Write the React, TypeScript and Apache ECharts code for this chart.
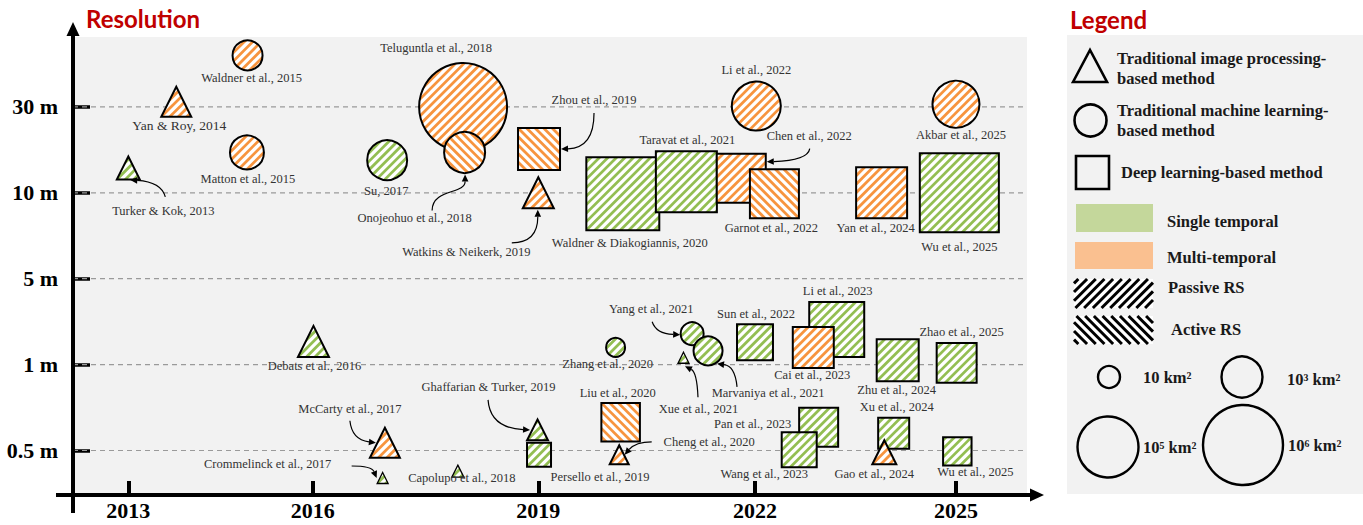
import React, { useEffect, useRef } from 'react';
import * as echarts from 'echarts';

// ---------------- data ----------------
const studies = [
  'Turker & Kok, 2013', 'Yan & Roy, 2014', 'Waldner et al., 2015', 'Matton et al., 2015',
  'Debats et al., 2016', 'Su, 2017', 'McCarty et al., 2017', 'Crommelinck et al., 2017',
  'Capolupo et al., 2018', 'Teluguntla et al., 2018', 'Onojeohuo et al., 2018', 'Watkins & Neikerk, 2019',
  'Zhou et al., 2019', 'Ghaffarian & Turker, 2019', 'Persello et al., 2019', 'Waldner & Diakogiannis, 2020',
  'Zhang et al., 2020', 'Liu et al., 2020', 'Cheng et al., 2020', 'Taravat et al., 2021',
  'Yang et al., 2021', 'Marvaniya et al., 2021', 'Xue et al., 2021', 'Li et al., 2022',
  'Chen et al., 2022', 'Garnot et al., 2022', 'Sun et al., 2022', 'Li et al., 2023',
  'Cai et al., 2023', 'Pan et al., 2023', 'Wang et al., 2023', 'Yan et al., 2024',
  'Zhu et al., 2024', 'Xu et al., 2024', 'Gao et al., 2024', 'Akbar et al., 2025',
  'Wu et al., 2025', 'Zhao et al., 2025', 'Wu et al., 2025',
];
// position on the time line (fractional year)
const studyYear = [
  2013.00, 2013.78, 2014.94, 2014.93, 2016.01, 2016.99, 2016.96, 2016.93,
  2017.93, 2018.00, 2018.02, 2019.00, 2019.01, 2018.99, 2019.01, 2020.17,
  2020.07, 2020.14, 2020.12, 2021.05, 2021.13, 2021.35, 2021.01, 2022.02,
  2021.81, 2022.29, 2022.00, 2023.22, 2022.87, 2022.95, 2022.66, 2023.89,
  2024.13, 2024.07, 2023.93, 2025.00, 2025.05, 2025.01, 2025.02,
];
// position on the resolution axis (0 = 0.5 m, 1 = 1 m, 2 = 5 m, 3 = 10 m, 4 = 30 m)
const studyLevel = [
  3.29, 4.06, 4.60, 3.47, 1.27, 3.38, 0.09, -0.32,
  -0.24, 4.00, 3.47, 3.00, 3.51, 0.24, -0.05, 2.99,
  1.20, 0.33, -0.05, 3.13, 1.36, 1.16, 1.08, 4.01,
  3.17, 2.99, 1.26, 1.41, 1.20, 0.27, 0.01, 3.00,
  1.05, 0.20, -0.02, 4.03, 3.00, 1.02, -0.01,
];
// log10 of study area (km²)
const studyLogArea = [
  1.1, 1.84, 1.84, 2.26, 1.95, 2.89, 1.84, -0.16,
  -0.05, 6.42, 3.0, 1.95, 3.1, 0.89, 1.21, 5.63,
  0.68, 2.74, 0.68, 5.0, 1.1, 1.74, -0.16, 3.8,
  3.8, 3.8, 2.47, 4.4, 3.0, 2.79, 2.37, 4.0,
  3.1, 1.95, 1.21, 3.6, 5.95, 2.89, 1.68,
];
// IP = traditional image processing, ML = traditional machine learning, DL = deep learning
const studyMethod = [
  'IP', 'IP', 'ML', 'ML', 'IP', 'ML', 'IP', 'IP',
  'IP', 'ML', 'ML', 'IP', 'DL', 'IP', 'DL', 'DL',
  'ML', 'DL', 'IP', 'DL', 'ML', 'ML', 'IP', 'ML',
  'DL', 'DL', 'DL', 'DL', 'DL', 'DL', 'DL', 'DL',
  'DL', 'DL', 'IP', 'ML', 'DL', 'DL', 'DL',
];
// S = single temporal, M = multi-temporal
const studyTemporal = [
  'S', 'M', 'M', 'M', 'S', 'S', 'M', 'S',
  'S', 'M', 'M', 'M', 'M', 'S', 'S', 'S',
  'S', 'M', 'M', 'S', 'S', 'S', 'S', 'M',
  'M', 'M', 'S', 'S', 'M', 'S', 'S', 'M',
  'S', 'S', 'M', 'M', 'S', 'S', 'S',
];
// P = passive RS, A = active RS
const studySensor = [
  'P', 'P', 'P', 'P', 'P', 'P', 'P', 'P',
  'P', 'P', 'A', 'P', 'A', 'P', 'P', 'P',
  'P', 'A', 'P', 'P', 'P', 'P', 'P', 'P',
  'P', 'A', 'P', 'P', 'P', 'P', 'P', 'P',
  'P', 'P', 'P', 'P', 'P', 'P', 'P',
];
const resolutionLabels = ['0.5 m', '1 m', '5 m', '10 m', '30 m'];
const yearTicks = [2013, 2016, 2019, 2022, 2025];
const areaLegendLog = [1, 3, 5, 6];
const areaLegendLabels = ['10 km²', '10³ km²', '10⁵ km²', '10⁶ km²'];
// studies pointed at by an arrow from their label
const arrowTargets = [0, 10, 11, 12, 24, 20, 22, 21, 13, 6, 7, 18];

// ---------------- layout / style ----------------
const SERIF = '"Liberation Serif", "Times New Roman", "DejaVu Serif", serif';
const TITLE_FONT = 'Lato, "Open Sans", sans-serif';
const GREEN = '#93BE52';
const ORANGE = '#F7943E';
const GRAY_BG = '#F2F2F2';
const STRIPE_PERIOD = 8.5; // along x (px)
const STRIPE_THICK = 3.9;  // along x (px)
// printed width of each 3-year span on the original timeline (relative units)
const SPAN_WIDTHS = [184.4, 225.6, 216.7, 201];
const X_MIN_YEAR = 2012.1;
const X_MAX_YEAR = 2026.06;
const Y_MIN = -0.518;
const Y_MAX = 4.814;
// symbol size scale: log10(area) -> diameter (px)
const SIZE_LOG = [1, 3, 5, 6];
const SIZE_PX = [22, 41, 61, 80];

// label offsets (px, from marker centre)
const LABEL_OFFSET: number[][] = [
  [35, 43], [3, 24], [4, 23], [1, 27], [1, 25], [-1, 31], [-35, -34], [-115, -14],
  [4, 7], [-27, -59], [-50, 66], [-72, 59], [55, -49], [-49, -43], [61, 22], [7, 49],
  [-8, 17], [-3, -29], [90, -13], [1, -42], [-41, -25], [60, 42], [15, 51], [0, -36],
  [68, -42], [-3, 34], [1, -28], [1, -38], [-1, 28], [-66, -3], [-35, 24], [-6, 35],
  [-1, 30], [3, -26], [-10, 22], [5, 31], [0, 54], [5, -31], [18, 21],
];
// arrow geometry (px, relative to the target marker centre): start, control(s), end
const ARROW_LAYOUT: { s: number[]; c1: number[]; c2?: number[]; e: number[] }[] = [
  { s: [37, 29], c1: [33, 14], e: [2, 12] },
  { s: [-32.5, 58], c1: [-32.5, 36], c2: [0.5, 42], e: [0.5, 22] },
  { s: [-26.5, 50], c1: [-0.5, 50], e: [-0.5, 17] },
  { s: [55, -36], c1: [55, -1], e: [22, 0] },
  { s: [68.5, -29.5], c1: [66.5, -17.5], e: [25.5, -16.5] },
  { s: [-40, -12], c1: [-36, 0], e: [-12, 1] },
  { s: [14.5, 39.5], c1: [13.5, 14.5], e: [1.5, 8.5] },
  { s: [29, 36], c1: [27, 15], e: [9, 13] },
  { s: [-49.5, -30], c1: [-47.5, -2], e: [-7.5, 0] },
  { s: [-35, -22], c1: [-33, -3], e: [-9, 0] },
  { s: [-31, -12], c1: [-11, -12], e: [-6, 0] },
  { s: [32.5, -13], c1: [16.5, -13], e: [5.5, 0] },
];

const TICK_POS = SPAN_WIDTHS.reduce((acc, w) => { acc.push(acc[acc.length - 1] + w); return acc; }, [0] as number[]);
function warp(year: number) {
  let i = 0;
  while (i < SPAN_WIDTHS.length - 1 && year > yearTicks[i + 1]) i++;
  return TICK_POS[i] + ((year - yearTicks[i]) / 3) * SPAN_WIDTHS[i];
}
function yearLabel(v: number) {
  for (let i = 0; i < yearTicks.length; i++) if (Math.abs(warp(yearTicks[i]) - v) < 0.01) return String(yearTicks[i]);
  return '';
}
function sizeOf(lg: number) {
  let i = 0;
  if (lg > SIZE_LOG[SIZE_LOG.length - 1]) i = SIZE_LOG.length - 2;
  else while (i < SIZE_LOG.length - 2 && lg > SIZE_LOG[i + 1]) i++;
  const t = (lg - SIZE_LOG[i]) / (SIZE_LOG[i + 1] - SIZE_LOG[i]);
  return SIZE_PX[i] + t * (SIZE_PX[i + 1] - SIZE_PX[i]);
}

function shapePoly(method: string, cx: number, cy: number, d: number): number[][] {
  const r = d / 2;
  if (method === 'ML') {
    const n = 72;
    const pts: number[][] = [];
    for (let k = 0; k < n; k++) pts.push([cx + r * Math.cos((2 * Math.PI * k) / n), cy + r * Math.sin((2 * Math.PI * k) / n)]);
    return pts;
  }
  if (method === 'DL') return [[cx - r, cy - r], [cx + r, cy - r], [cx + r, cy + r], [cx - r, cy + r]];
  return [[cx, cy - r], [cx + r, cy + r], [cx - r, cy + r]];
}
// keep the part of a convex polygon where a*x + b*y <= c
function clipHalf(poly: number[][], a: number, b: number, c: number) {
  const out: number[][] = [];
  for (let i = 0; i < poly.length; i++) {
    const p = poly[i], q = poly[(i + 1) % poly.length];
    const fp = a * p[0] + b * p[1] - c, fq = a * q[0] + b * q[1] - c;
    if (fp <= 0) out.push(p);
    if ((fp < 0 && fq > 0) || (fp > 0 && fq < 0)) {
      const t = fp / (fp - fq);
      out.push([p[0] + t * (q[0] - p[0]), p[1] + t * (q[1] - p[1])]);
    }
  }
  return out;
}
// diagonal stripe bands clipped to the shape: dir 1 = '/', dir -1 = '\'
function stripePolys(poly: number[][], cx: number, cy: number, d: number, dir: number) {
  const b = dir === 1 ? 1 : -1;
  const s0 = cx + b * cy;
  const res: number[][][] = [];
  const n = Math.ceil(d / STRIPE_PERIOD) + 1;
  for (let j = -n; j <= n; j++) {
    const k = s0 - STRIPE_THICK / 2 + j * STRIPE_PERIOD;
    let p = clipHalf(poly, -1, -b, -k);
    if (p.length < 3) continue;
    p = clipHalf(p, 1, b, k + STRIPE_THICK);
    if (p.length >= 3) res.push(p);
  }
  return res;
}

function hatch(x0: number, y0: number, w: number, h: number, dir: number, step: number, lw: number, color: string) {
  const out: any[] = [];
  const style = { stroke: color, lineWidth: lw };
  if (dir === 1) {
    for (let k = x0 + y0 + step / 2; k < x0 + w + y0 + h; k += step) {
      const xa = Math.max(x0, k - y0 - h), xb = Math.min(x0 + w, k - y0);
      if (xb <= xa) continue;
      out.push({ type: 'line', shape: { x1: xa, y1: k - xa, x2: xb, y2: k - xb }, style, z: 60 });
    }
  } else {
    for (let k = x0 - y0 - h + step / 2; k < x0 + w - y0; k += step) {
      const xa = Math.max(x0, k + y0), xb = Math.min(x0 + w, k + y0 + h);
      if (xb <= xa) continue;
      out.push({ type: 'line', shape: { x1: xa, y1: xa - k, x2: xb, y2: xb - k }, style, z: 60 });
    }
  }
  return out;
}

function legendText(text: string, x: number, y: number, size = 16.5) {
  return {
    type: 'text', x, y, z: 60,
    style: { text, fontFamily: SERIF, fontWeight: 'bold', fontSize: size, fill: '#1a1a1a', align: 'left', verticalAlign: 'middle' },
  };
}

function buildOption() {
  const legendSizeCircles: any[] = [];
  const sizeCentres = [[1109, 377], [1242, 377], [1108, 447], [1243, 445]];
  const sizeTextPos = [[1143, 377], [1287, 379], [1143, 447], [1288, 445]];
  areaLegendLog.forEach((lg, i) => {
    legendSizeCircles.push({
      type: 'circle', z: 60, shape: { cx: sizeCentres[i][0], cy: sizeCentres[i][1], r: sizeOf(lg) / 2 },
      style: { fill: 'none', stroke: '#000', lineWidth: 2.4 },
    });
    legendSizeCircles.push(legendText(areaLegendLabels[i], sizeTextPos[i][0], sizeTextPos[i][1]));
  });

  const graphic: any[] = [
    { type: 'text', x: 86, y: 18, z: 60, style: { text: 'Resolution', fontFamily: TITLE_FONT, fontWeight: 'bold', fontSize: 24, fill: '#C00000', verticalAlign: 'middle' } },
    { type: 'text', x: 1070, y: 19, z: 60, style: { text: 'Legend', fontFamily: TITLE_FONT, fontWeight: 'bold', fontSize: 24, fill: '#C00000', verticalAlign: 'middle' } },
    // axes
    { type: 'line', z: 50, shape: { x1: 73, y1: 34, x2: 73, y2: 513 }, style: { stroke: '#000', lineWidth: 4 } },
    { type: 'polygon', z: 50, shape: { points: [[66.5, 36], [73, 22], [79.5, 36]] }, style: { fill: '#000' } },
    { type: 'line', z: 50, shape: { x1: 56, y1: 495, x2: 1031, y2: 495 }, style: { stroke: '#000', lineWidth: 4 } },
    { type: 'polygon', z: 50, shape: { points: [[1030, 488.5], [1044, 495], [1030, 501.5]] }, style: { fill: '#000' } },
    // legend box
    { type: 'rect', z: 55, shape: { x: 1067, y: 35, width: 296, height: 459 }, style: { fill: GRAY_BG } },
    { type: 'polygon', z: 60, shape: { points: [[1073, 82], [1090, 50], [1107, 82]] }, style: { fill: 'none', stroke: '#000', lineWidth: 2.6 } },
    legendText('Traditional image processing-', 1117, 58),
    legendText('based method', 1117, 78),
    { type: 'circle', z: 60, shape: { cx: 1090.5, cy: 120.5, r: 16 }, style: { fill: 'none', stroke: '#000', lineWidth: 2.6 } },
    legendText('Traditional machine learning-', 1117, 110),
    legendText('based method', 1117, 130),
    { type: 'rect', z: 60, shape: { x: 1076, y: 156, width: 33, height: 33 }, style: { fill: 'none', stroke: '#000', lineWidth: 2.6 } },
    legendText('Deep learning-based method', 1121, 172),
    { type: 'rect', z: 60, shape: { x: 1076, y: 204, width: 77, height: 28 }, style: { fill: '#C4D79B' } },
    legendText('Single temporal', 1167, 221),
    { type: 'rect', z: 60, shape: { x: 1075, y: 242, width: 78, height: 27 }, style: { fill: '#FAC090' } },
    legendText('Multi-temporal', 1167, 257),
    { type: 'rect', z: 59, shape: { x: 1074, y: 279, width: 79, height: 29 }, style: { fill: '#fff' } },
    ...hatch(1074, 279, 79, 29, 1, 8.7, 3, '#000'),
    legendText('Passive RS', 1168, 287),
    { type: 'rect', z: 59, shape: { x: 1074, y: 316, width: 79, height: 28 }, style: { fill: '#fff' } },
    ...hatch(1074, 316, 79, 28, -1, 8.7, 3, '#000'),
    legendText('Active RS', 1171, 329),
    ...legendSizeCircles,
  ];

  return {
    animation: false,
    backgroundColor: '#ffffff',
    grid: { left: 73, top: 37, right: 336, bottom: 30, show: true, backgroundColor: GRAY_BG, borderWidth: 0, containLabel: false, outerBoundsMode: 'none' },
    xAxis: {
      type: 'value', min: warp(X_MIN_YEAR), max: warp(X_MAX_YEAR),
      axisLine: { show: false, onZero: false },
      splitLine: { show: false },
      axisTick: { show: true, inside: true, length: 14, customValues: yearTicks.map(warp), lineStyle: { color: '#000', width: 4 } },
      axisLabel: {
        show: true, customValues: yearTicks.map(warp), formatter: (v: number) => yearLabel(v), margin: 4,
        fontFamily: SERIF, fontWeight: 'bold', fontSize: 22, color: '#000',
      },
    },
    yAxis: {
      type: 'value', min: Y_MIN, max: Y_MAX,
      axisLine: { show: false, onZero: false },
      splitLine: { show: false },
      axisTick: { show: true, inside: true, length: 17, customValues: [0, 1, 2, 3, 4], lineStyle: { color: '#000', width: 3.5 } },
      axisLabel: {
        show: true, customValues: [0, 1, 2, 3, 4], formatter: (v: number) => resolutionLabels[Math.round(v)] || '', margin: 15,
        fontFamily: SERIF, fontWeight: 'bold', fontSize: 22, color: '#000',
      },
    },
    series: [
      {
        type: 'custom', name: 'grid', coordinateSystem: 'cartesian2d', silent: true, z: 1, clip: false,
        data: resolutionLabels.map((_, i) => [warp(X_MIN_YEAR), i]),
        renderItem: (params: any, api: any) => {
          const p = api.coord([api.value(0), api.value(1)]);
          const cs = params.coordSys;
          return {
            type: 'line', shape: { x1: cs.x, y1: p[1], x2: cs.x + cs.width, y2: p[1] },
            style: { stroke: '#9a9a9a', lineWidth: 1.2, lineDash: [5, 4] },
          };
        },
      },
      {
        type: 'custom', name: 'studies', coordinateSystem: 'cartesian2d', silent: true, z: 3, clip: false,
        data: studies.map((_, i) => [warp(studyYear[i]), studyLevel[i], studyLogArea[i]]),
        renderItem: (params: any, api: any) => {
          const i = params.dataIndex;
          const c = api.coord([api.value(0), api.value(1)]);
          const d = sizeOf(api.value(2));
          const method = studyMethod[i];
          const poly = shapePoly(method, c[0], c[1], d);
          const color = studyTemporal[i] === 'S' ? GREEN : ORANGE;
          const dir = studySensor[i] === 'P' ? 1 : -1;
          const stripes = stripePolys(poly, c[0], c[1], d, dir).map((pts) => ({
            type: 'polygon', shape: { points: pts }, style: { fill: color },
          }));
          const mk = (style: any) => (method === 'ML'
            ? { type: 'circle', shape: { cx: c[0], cy: c[1], r: d / 2 }, style }
            : { type: 'polygon', shape: { points: poly.map((p) => p.slice()) }, style });
          const bw = d < 15 ? 1.3 : 2;
          return {
            type: 'group',
            children: [
              mk({ fill: '#ffffff' }),
              ...stripes,
              mk({ fill: 'none', stroke: '#000', lineWidth: bw, lineJoin: 'miter' }),
            ],
          };
        },
      },
      {
        type: 'custom', name: 'arrows', coordinateSystem: 'cartesian2d', silent: true, z: 4, clip: false,
        data: arrowTargets.map((i) => [warp(studyYear[i]), studyLevel[i]]),
        renderItem: (params: any, api: any) => {
          const L = ARROW_LAYOUT[params.dataIndex];
          const c = api.coord([api.value(0), api.value(1)]);
          const P = (o: number[]) => [c[0] + o[0], c[1] + o[1]];
          const s = P(L.s), e = P(L.e), c1 = P(L.c1);
          const c2 = L.c2 ? P(L.c2) : null;
          const last = c2 || c1;
          const dx = e[0] - last[0], dy = e[1] - last[1];
          const len = Math.hypot(dx, dy) || 1;
          const ux = dx / len, uy = dy / len;
          const head = 7, half = 3.3;
          const b = [e[0] - ux * head, e[1] - uy * head];
          const shape: any = { x1: s[0], y1: s[1], cpx1: c1[0], cpy1: c1[1], x2: b[0], y2: b[1] };
          if (c2) { shape.cpx2 = c2[0]; shape.cpy2 = c2[1]; }
          return {
            type: 'group',
            children: [
              { type: 'bezierCurve', shape, style: { stroke: '#000', fill: 'none', lineWidth: 1.2 } },
              { type: 'polygon', shape: { points: [e, [b[0] - uy * half, b[1] + ux * half], [b[0] + uy * half, b[1] - ux * half]] }, style: { fill: '#000' } },
            ],
          };
        },
      },
      {
        type: 'custom', name: 'labels', coordinateSystem: 'cartesian2d', silent: true, z: 6, clip: false,
        data: studies.map((_, i) => [warp(studyYear[i]), studyLevel[i]]),
        renderItem: (params: any, api: any) => {
          const i = params.dataIndex;
          const c = api.coord([api.value(0), api.value(1)]);
          const o = LABEL_OFFSET[i];
          return {
            type: 'text', x: c[0] + o[0], y: c[1] + o[1],
            style: {
              text: studies[i], fontFamily: SERIF, fontSize: i === 1 ? 13.5 : 12.5, fill: '#333',
              align: 'center', verticalAlign: 'middle',
            },
          };
        },
      },
    ],
    graphic,
  };
}

export default function App() {
  const ref = useRef<HTMLDivElement>(null);
  useEffect(() => {
    document.body.style.margin = '0';
    const chart = echarts.init(ref.current as HTMLDivElement, null, { renderer: 'svg' });
    chart.setOption(buildOption() as any);
    return () => chart.dispose();
  }, []);
  return <div ref={ref} style={{ width: 1363, height: 525 }} />;
}
